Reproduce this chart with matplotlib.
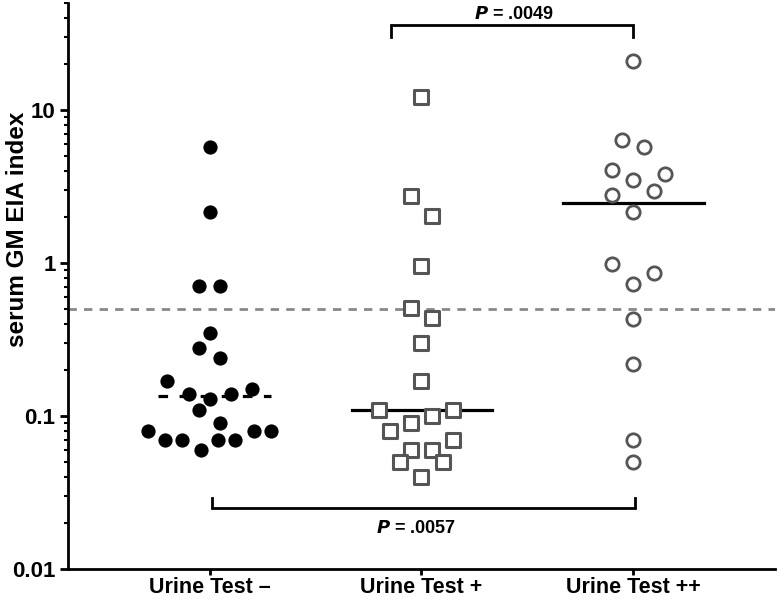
"""
Serum GM EIA index by urine test result (dot plot, log y-axis).
"""
import matplotlib
matplotlib.use("Agg")
import matplotlib.pyplot as plt
import numpy as np
from matplotlib.ticker import LogLocator, FixedLocator, NullFormatter

plt.rcParams["font.family"] = ["Liberation Sans", "DejaVu Sans"]
plt.rcParams["font.weight"] = "bold"

GROUPS = ["Urine Test \u2013", "Urine Test +", "Urine Test ++"]

# values; offsets are horizontal jitter within a group
neg_vals = [5.7, 2.14, 0.71, 0.71, 0.35, 0.28, 0.24, 0.17, 0.14, 0.13, 0.14,
            0.15, 0.11, 0.09, 0.08, 0.07, 0.07, 0.06, 0.07, 0.07, 0.08, 0.08]
neg_off = [0.0, 0.0, -0.05, 0.05, 0.0, -0.05, 0.05, -0.20, -0.10, 0.0, 0.10,
           0.20, -0.05, 0.05, -0.29, -0.21, -0.13, -0.04, 0.04, 0.12, 0.21, 0.29]

pos_vals = [12.2, 2.73, 2.02, 0.955, 0.51, 0.436, 0.30, 0.17, 0.11, 0.11,
            0.10, 0.09, 0.08, 0.07, 0.06, 0.06, 0.05, 0.05, 0.04]
pos_off = [0.0, -0.05, 0.05, 0.0, -0.05, 0.05, 0.0, 0.0, -0.20, 0.15,
           0.05, -0.05, -0.15, 0.15, -0.05, 0.05, -0.10, 0.10, 0.0]

pp_vals = [20.9, 6.36, 5.71, 4.05, 3.8, 3.47, 2.95, 2.77, 2.14, 0.98, 0.86,
           0.73, 0.43, 0.22, 0.07, 0.05]
pp_off = [0.0, -0.05, 0.05, -0.10, 0.15, 0.0, 0.10, -0.10, 0.0, -0.10, 0.10,
          0.0, 0.0, 0.0, 0.0, 0.0]

medians = [0.135, 0.11, 2.45]
cutoff = 0.5

p_low = "= .0057"   # Urine Test - vs ++
p_high = "= .0049"  # Urine Test + vs ++

fig = plt.figure(figsize=(7.8, 6.01), dpi=100)
ax = fig.add_axes([0.0872, 0.0532, 0.906, 0.942])

ax.set_yscale("log")
ax.set_ylim(0.01, 50)
ax.set_xlim(-0.67, 2.67)

ax.axhline(cutoff, color="#888888", lw=2.0, ls=(0, (3.0, 2.6)), zorder=1)

ax.scatter(np.zeros(len(neg_vals)) + np.array(neg_off), neg_vals, s=105,
           marker="o", color="black", zorder=3, linewidths=0)
ax.scatter(np.ones(len(pos_vals)) + np.array(pos_off), pos_vals, s=100,
           marker="s", facecolor="white", edgecolor="#555555",
           linewidths=2.2, zorder=3)
ax.scatter(2 * np.ones(len(pp_vals)) + np.array(pp_off), pp_vals, s=92,
           marker="o", facecolor="white", edgecolor="#555555",
           linewidths=2.0, zorder=3)

# median lines
ax.plot([-0.245, 0.29], [medians[0]] * 2, color="black", lw=2.3,
        ls=(0, (3.0, 3.6)), zorder=2)
ax.plot([0.67, 1.335], [medians[1]] * 2, color="black", lw=2.3, zorder=2)
ax.plot([1.67, 2.335], [medians[2]] * 2, color="black", lw=2.3, zorder=2)

# significance brackets
ax.plot([0.01, 0.01, 2.01, 2.01], [0.029, 0.025, 0.025, 0.029],
        color="black", lw=2.0, solid_joinstyle="miter", clip_on=False)
ax.text(0.975, 0.0185, r"$\bfit{P}$ " + p_low, ha="center", va="center",
        fontsize=13)
ax.plot([0.855, 0.855, 2.0, 2.0], [30, 35.6, 35.6, 30],
        color="black", lw=2.0, solid_joinstyle="miter", clip_on=False)
ax.text(1.44, 42, r"$\bfit{P}$ " + p_high, ha="center", va="center",
        fontsize=13)

ax.set_xticks([0, 1, 2])
ax.set_xticklabels(GROUPS, fontsize=15.5, fontweight="bold")
ax.yaxis.set_major_locator(FixedLocator([0.01, 0.1, 1, 10]))
ax.set_yticklabels(["0.01", "0.1", "1", "10"], fontsize=16, fontweight="bold")
ax.yaxis.set_minor_locator(LogLocator(base=10, subs=np.arange(2, 10)))
ax.yaxis.set_minor_formatter(NullFormatter())
ax.set_ylabel("serum GM EIA index", fontsize=17.5, fontweight="bold")
ax.yaxis.set_label_coords(-0.055, 0.6)

for side in ("top", "right"):
    ax.spines[side].set_visible(False)
for side in ("left", "bottom"):
    ax.spines[side].set_linewidth(2.0)
ax.tick_params(axis="y", which="major", length=6, width=2.0, pad=3)
ax.tick_params(axis="x", which="major", length=4, width=2.0, pad=1.5)
ax.tick_params(axis="y", which="minor", length=3, width=1.5)

fig.savefig("out.png", dpi=100)
